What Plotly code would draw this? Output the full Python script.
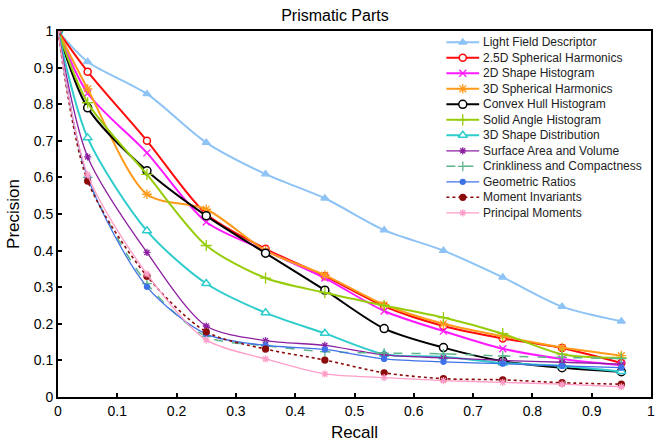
import plotly.graph_objects as go

recall = [0, 0.05, 0.15, 0.25, 0.35, 0.45, 0.55, 0.65, 0.75, 0.85, 0.95]

names = [
    "Light Field Descriptor", "2.5D Spherical Harmonics", "2D Shape Histogram",
    "3D Spherical Harmonics", "Convex Hull Histogram", "Solid Angle Histogram",
    "3D Shape Distribution", "Surface Area and Volume", "Crinkliness and Compactness",
    "Geometric Ratios", "Moment Invariants", "Principal Moments",
]

lfd = [1, 0.916, 0.828, 0.695, 0.609, 0.543, 0.456, 0.400, 0.327, 0.247, 0.207]
sh25 = [1, 0.889, 0.700, 0.500, 0.405, 0.330, 0.248, 0.194, 0.160, 0.134, 0.093]
shape2d = [1, 0.830, 0.667, 0.478, 0.400, 0.325, 0.235, 0.180, 0.132, 0.104, 0.087]
sh3d = [1, 0.842, 0.554, 0.513, 0.400, 0.333, 0.252, 0.200, 0.166, 0.135, 0.113]
convex = [1, 0.790, 0.618, 0.495, 0.393, 0.292, 0.187, 0.135, 0.098, 0.080, 0.069]
solid = [1, 0.804, 0.608, 0.414, 0.325, 0.285, 0.250, 0.217, 0.173, 0.117, 0.107]
dist3d = [1, 0.708, 0.454, 0.310, 0.230, 0.174, 0.117, 0.110, 0.093, 0.085, 0.070]
surface = [1, 0.656, 0.395, 0.194, 0.154, 0.141, 0.115, 0.107, 0.100, 0.095, 0.090]
crinkle = [1, 0.600, 0.310, 0.165, 0.140, 0.124, 0.120, 0.118, 0.112, 0.108, 0.105]
geom = [1, 0.600, 0.301, 0.172, 0.141, 0.130, 0.104, 0.096, 0.091, 0.085, 0.080]
moment = [1, 0.590, 0.330, 0.178, 0.131, 0.101, 0.066, 0.050, 0.047, 0.039, 0.035]
principal = [1, 0.607, 0.336, 0.156, 0.104, 0.063, 0.053, 0.045, 0.040, 0.035, 0.028]

series = [lfd, sh25, shape2d, sh3d, convex, solid, dist3d, surface, crinkle, geom, moment, principal]

tick_vals = [0, 0.1, 0.2, 0.3, 0.4, 0.5, 0.6, 0.7, 0.8, 0.9, 1]
tick_text = ["0", "0.1", "0.2", "0.3", "0.4", "0.5", "0.6", "0.7", "0.8", "0.9", "1"]

colors = ["#8ec3f5", "#ff0a0a", "#ff1aff", "#ff9a1a", "#000000", "#96cc0a",
          "#2ecccc", "#8c1fa0", "#5cb48c", "#3f72e8", "#8b0a0a", "#ff9ec8"]
# (symbol, white-filled?)
symbols = [("triangle-up", False), ("circle", True), ("x-thin-open", False), ("asterisk-open", False),
           ("circle", True), ("cross-thin-open", False), ("triangle-up", True), ("asterisk-open", False),
           ("cross-thin-open", False), ("circle", False), ("circle", False), ("asterisk-open", False)]
msizes = [7, 7, 7, 8, 8, 8, 8, 6, 7, 5, 6, 6]
widths = [2, 2, 2, 2, 2, 2, 2, 1.3, 1.5, 1.3, 1.6, 1.3]
dashes = ["solid"] * 8 + ["dash", "solid", "dot", "solid"]

FONT = "Liberation Sans, Arial, Helvetica, sans-serif"


def marker_for(c, sym, white, size):
    if white:
        return dict(symbol=sym, size=size, color="white", line=dict(color=c, width=1.5))
    return dict(symbol=sym, size=size, color=c, line=dict(color=c, width=1.3))


fig = go.Figure()
for name, ys, c, (s, wf), ms, w, d in zip(names, series, colors, symbols, msizes, widths, dashes):
    fig.add_trace(go.Scatter(
        x=recall, y=ys, name=name, mode="lines+markers",
        line=dict(color=c, width=w, dash=d, shape="spline", smoothing=0.8),
        marker=marker_for(c, s, wf, ms),
        showlegend=False,
    ))

# manual legend on a pixel-like overlay axis
leg_y0, leg_dy = 42.3, 15.5
for i, (name, c, (s, wf), ms, w, d) in enumerate(zip(names, colors, symbols, msizes, widths, dashes)):
    yy = leg_y0 + i * leg_dy
    fig.add_trace(go.Scatter(
        x=[449, 482], y=[yy, yy], xaxis="x2", yaxis="y2", mode="lines",
        line=dict(color=c, width=w, dash=d), showlegend=False, hoverinfo="skip",
    ))
    fig.add_trace(go.Scatter(
        x=[465.5], y=[yy], xaxis="x2", yaxis="y2", mode="markers",
        marker=marker_for(c, s, wf, ms), showlegend=False, hoverinfo="skip",
    ))
    fig.add_annotation(x=484, y=yy, xref="x2", yref="y2", text=name, showarrow=False,
                       xanchor="left", yanchor="middle", font=dict(family=FONT, size=12, color="#222"))

fig.update_layout(
    width=657, height=445,
    margin=dict(l=58, r=2, t=31, b=48),
    paper_bgcolor="white", plot_bgcolor="white",
    font=dict(family=FONT, size=14, color="black"),
    title=dict(text="Prismatic Parts", x=0.467, xref="paper", xanchor="center",
               y=1 - 15 / 445, yanchor="middle", font=dict(size=16, family=FONT)),
    xaxis=dict(range=[0, 1], tickvals=tick_vals, ticktext=tick_text, ticklabeloverflow="allow",
               showline=True, mirror=True, linecolor="black", linewidth=2,
               ticks="inside", ticklen=4, tickwidth=1.5, tickcolor="black",
               showgrid=False, zeroline=False,
               title=dict(text="Recall", font=dict(size=17), standoff=8)),
    yaxis=dict(range=[0, 1], tickvals=tick_vals, ticktext=tick_text, ticklabeloverflow="allow",
               showline=True, mirror=True, linecolor="black", linewidth=2,
               ticks="inside", ticklen=4, tickwidth=1.5, tickcolor="black",
               showgrid=False, zeroline=False,
               title=dict(text="Precision", font=dict(size=17), standoff=10)),
    xaxis2=dict(overlaying="x", range=[58, 655], visible=False, fixedrange=True),
    yaxis2=dict(overlaying="y", range=[397, 31], visible=False, fixedrange=True),
)

fig.write_html("out.html")
